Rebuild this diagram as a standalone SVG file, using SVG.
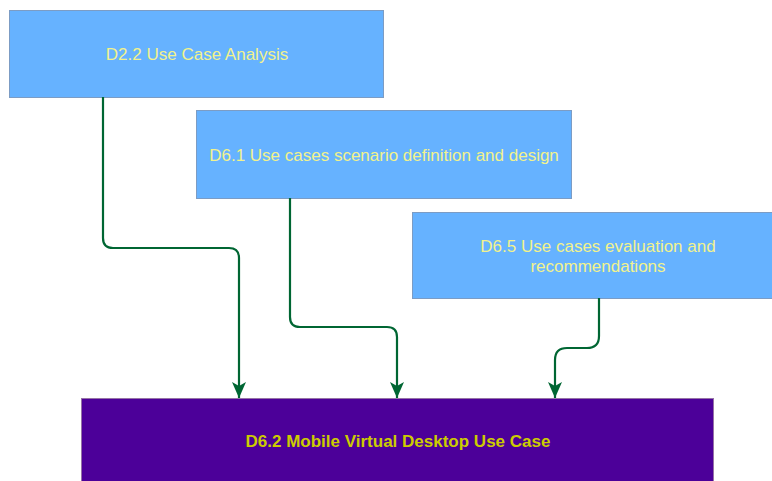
<svg xmlns="http://www.w3.org/2000/svg" width="772" height="481" viewBox="0 0 772 481">
  <style>
    .task { fill: #66B2FF; stroke: #7C9CC4; stroke-width: 1; }
    .task-label { font-family: "Liberation Sans", Arial, sans-serif; font-size: 17px; fill: #F2F28C; text-anchor: middle; }
    .result { fill: #4C0099; stroke: #9673A6; stroke-width: 1; }
    .result-label { font-family: "Liberation Sans", Arial, sans-serif; font-size: 17px; font-weight: bold; fill: #CCCC00; text-anchor: middle; }
    .flow { fill: none; stroke: #006633; stroke-width: 2.2; }
  </style>
  <defs>
    <marker id="arrow" viewBox="0 0 16 14" refX="16" refY="7" markerWidth="16" markerHeight="14" markerUnits="userSpaceOnUse" orient="auto">
      <path d="M0,0 L4,7 L0,14 L16,7 Z" fill="#006633"/>
    </marker>
  </defs>

  <rect width="772" height="481" fill="#FFFFFF"/>

  <g id="node-d22">
    <rect class="task" x="9.5" y="10.5" width="374" height="87"/>
    <text class="task-label" x="197" y="60">D2.2 Use Case Analysis</text>
  </g>

  <g id="node-d61">
    <rect class="task" x="196.5" y="110.5" width="375" height="88"/>
    <text class="task-label" x="384" y="161">D6.1 Use cases scenario definition and design</text>
  </g>

  <g id="node-d65">
    <rect class="task" x="412.5" y="212.5" width="375" height="86"/>
    <text class="task-label" x="598" y="252">D6.5 Use cases evaluation and</text>
    <text class="task-label" x="598" y="272">recommendations</text>
  </g>

  <g id="node-d62">
    <rect class="result" x="81.5" y="398.5" width="632" height="90"/>
    <text class="result-label" x="398" y="447">D6.2 Mobile Virtual Desktop Use Case</text>
  </g>

  <g id="connectors">
    <path class="flow" d="M103,97 V238 Q103,248 113,248 H229 Q239,248 239,258 V398" marker-end="url(#arrow)"/>
    <path class="flow" d="M290,198 V317 Q290,327 300,327 H387 Q397,327 397,337 V398" marker-end="url(#arrow)"/>
    <path class="flow" d="M599,298 V336 Q599,348 587,348 H567 Q555,348 555,360 V398" marker-end="url(#arrow)"/>
  </g>
</svg>
